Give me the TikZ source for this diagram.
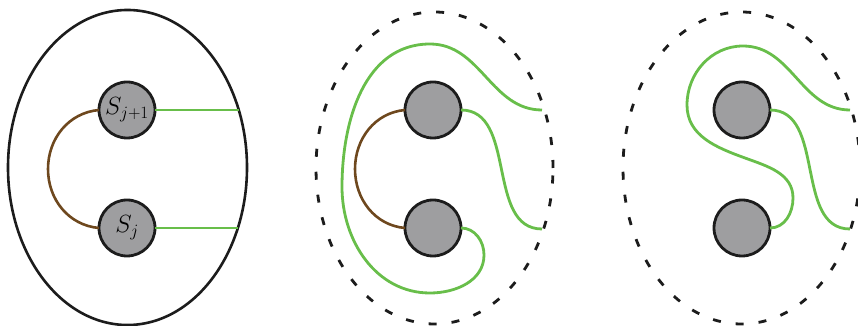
\documentclass[tikz,border=0pt]{standalone}
\usetikzlibrary{positioning}
\definecolor{strandgreen}{RGB}{104,190,74}
\definecolor{strandbrown}{RGB}{110,72,30}
\definecolor{discgray}{RGB}{158,158,160}
\definecolor{rimblack}{RGB}{28,28,28}

\begin{document}
\begin{tikzpicture}[
        x=1pt, y=1pt,
        disc/.style={
            circle,
            minimum size=56pt,
            inner sep=0pt,
            outer sep=0pt,
            fill=discgray,
            draw=rimblack,
            line width=2.8pt,
            font=\fontsize{26}{30}\selectfont
        },
        rim/.style={draw=rimblack, line width=2.6pt},
        dashrim/.style={draw=rimblack, line width=2.8pt, dash pattern=on 8pt off 15pt},
        gstrand/.style={draw=strandgreen, line width=2.8pt},
        bstrand/.style={draw=strandbrown, line width=2.6pt}
    ]
        \useasboundingbox (0,0) rectangle (858,326);

        % Left: the two discs inside the solid ball
        \draw[rim] (127.5,158.5) ellipse (119.5 and 157.5);
        \coordinate (Eb) at (238.6,216);
        \coordinate (Ea) at (237.8,98);
        \node[disc] (Sb) at (127,216) {$S_{j+1}$};
        \node[disc, below=62pt of Sb] (Sa) {$S_j$};
        \draw[bstrand] (Sb.west) to[out=185,in=90] (48,157) to[out=-90,in=175] (Sa.west);
        \draw[gstrand] (Sb) -- (Eb);
        \draw[gstrand] (Sa) -- (Ea);

        % Middle: strand wrapped round the pair
        \draw[dashrim] (434.5,158) ellipse (118.5 and 156);
        \node[disc] (Tb) at (433,216) {};
        \node[disc, below=62pt of Tb] (Ta) {};
        \coordinate (Fb) at (542,216);
        \coordinate (Fa) at (542,97);
        \draw[bstrand] (Tb.west) to[out=185,in=90] (355,157) to[out=-90,in=175] (Ta.west);
        \draw[gstrand] (Tb.east) to[out=0,in=180] (Fa);
        \draw[gstrand] (Ta.east) to[out=0,in=90] (484,71) to[out=-90,in=0] (430,33)
            to[out=180,in=-90] (342,139) to[out=90,in=180] (430,282) to[out=0,in=180] (Fb);

        % Right: after sliding the strand over the upper disc
        \draw[dashrim] (741.5,158) ellipse (118.5 and 156);
        \node[disc] (Ub) at (742,216) {};
        \node[disc, below=62pt of Ub] (Ua) {};
        \coordinate (Gb) at (850,216);
        \coordinate (Ga) at (850,97);
        \draw[gstrand] (Ub.east) to[out=0,in=180] (Ga);
        \draw[gstrand] (Ua.east) to[out=0,in=-90] (793,128) to[out=90,in=-20] (745,168)
            to[out=160,in=-90] (687,221) to[out=90,in=180] (743,280) to[out=0,in=180] (Gb);
    \end{tikzpicture}
\end{document}
